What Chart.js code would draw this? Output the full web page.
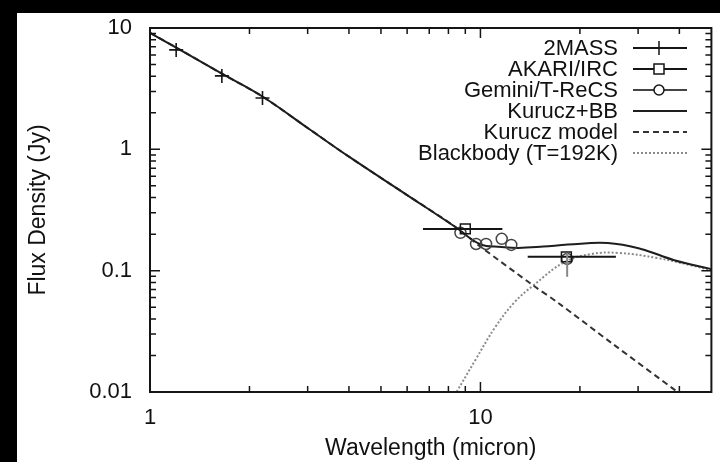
<!DOCTYPE html>
<html>
<head>
<meta charset="utf-8">
<script src="https://cdn.jsdelivr.net/npm/chart.js@4"></script>
<style>
  html, body { margin: 0; padding: 0; background: #000; }
  #wrap { position: absolute; left: 17px; top: 13px; width: 703px; height: 449px; background: #fff; }
</style>
</head>
<body>
<div id="wrap"><canvas id="sed" width="703" height="449"></canvas></div>
<script>
// photometry
var twomassWave = [1.2, 1.65, 2.19];
var twomassFlux = [6.6, 4.03, 2.65];

var akariWave = [9.0, 18.2];
var akariFlux = [0.221, 0.13];
var akariWaveLo = [6.7, 13.9];
var akariWaveHi = [11.65, 25.7];

var geminiWave = [8.7, 9.7, 10.4, 11.6, 12.4, 18.3];
var geminiFlux = [0.205, 0.166, 0.166, 0.183, 0.163, 0.125];
var geminiFluxLo = [0.205, 0.166, 0.166, 0.183, 0.163, 0.089];
var geminiFluxHi = [0.205, 0.166, 0.166, 0.183, 0.163, 0.14];

// models
var totalWave = [1, 1.2, 1.65, 2.2, 3, 4, 6, 8.4, 10, 11.6, 13, 15.5, 18.4, 24.3, 30.6, 38.6, 50];
var totalFlux = [9.1, 6.9, 4.2, 2.7, 1.5, 0.87, 0.42, 0.229, 0.165, 0.157, 0.154, 0.158, 0.164, 0.169, 0.151, 0.122, 0.103];

var kuruczWave = [1, 1.2, 1.65, 2.2, 3, 4, 6, 8.4, 10, 14.45, 17.2, 25, 39.5, 50];
var kuruczFlux = [9.1, 6.9, 4.2, 2.7, 1.5, 0.87, 0.42, 0.229, 0.158, 0.0755, 0.0542, 0.0252, 0.01, 0.0062];

var bbWave = [8.47, 9.66, 11.1, 12.7, 14.45, 18.0, 21.6, 26.1, 34.4, 43.2, 50];
var bbFlux = [0.01, 0.0184, 0.0344, 0.0552, 0.0755, 0.118, 0.137, 0.140, 0.127, 0.111, 0.101];

var seriesNames = ['2MASS', 'AKARI/IRC', 'Gemini/T-ReCS', 'Kurucz+BB', 'Kurucz model', 'Blackbody (T=192K)'];

// axes
var xTicks = [1, 2, 3, 4, 5, 6, 7, 8, 9, 10, 20, 30, 40];
var xLabels = [1, 10];
var yTicks = [0.01, 0.02, 0.03, 0.04, 0.05, 0.06, 0.07, 0.08, 0.09,
              0.1, 0.2, 0.3, 0.4, 0.5, 0.6, 0.7, 0.8, 0.9,
              1, 2, 3, 4, 5, 6, 7, 8, 9, 10];
var yLabels = [0.01, 0.1, 1, 10];

function pts(xs, ys) {
  return xs.map(function (x, i) { return { x: x, y: ys[i] }; });
}

var FONT = '"Liberation Sans", Arial, Helvetica, sans-serif';
var INK = '#151515';

// error bars
var errorBars = {
  id: 'errorBars',
  afterDatasetsDraw: function (chart) {
    var ctx = chart.ctx, xs = chart.scales.x, ys = chart.scales.y;
    ctx.save();
    ctx.lineWidth = 2;
    ctx.strokeStyle = INK;
    ctx.beginPath();
    akariWave.forEach(function (w, i) {
      var py = ys.getPixelForValue(akariFlux[i]);
      ctx.moveTo(xs.getPixelForValue(akariWaveLo[i]), py);
      ctx.lineTo(xs.getPixelForValue(akariWaveHi[i]), py);
    });
    ctx.stroke();
    ctx.strokeStyle = '#888';
    ctx.beginPath();
    geminiWave.forEach(function (w, i) {
      if (geminiFluxLo[i] === geminiFluxHi[i]) return;
      var px = xs.getPixelForValue(w);
      ctx.moveTo(px, ys.getPixelForValue(geminiFluxLo[i]));
      ctx.lineTo(px, ys.getPixelForValue(geminiFluxHi[i]));
    });
    ctx.stroke();
    ctx.restore();
  }
};

// gnuplot style box with inward ticks on all four sides
var frame = {
  id: 'frame',
  afterDatasetsDraw: function (chart) {
    var ctx = chart.ctx, a = chart.chartArea, xs = chart.scales.x, ys = chart.scales.y;
    ctx.save();
    ctx.strokeStyle = INK;
    ctx.lineWidth = 1.5;
    ctx.beginPath();
    xTicks.forEach(function (v) {
      var px = xs.getPixelForValue(v);
      var len = xLabels.indexOf(v) >= 0 ? 10 : 6;
      ctx.moveTo(px, a.bottom); ctx.lineTo(px, a.bottom - len);
      ctx.moveTo(px, a.top); ctx.lineTo(px, a.top + len);
    });
    yTicks.forEach(function (v) {
      var py = ys.getPixelForValue(v);
      var len = yLabels.indexOf(v) >= 0 ? 10 : 6;
      ctx.moveTo(a.left, py); ctx.lineTo(a.left + len, py);
      ctx.moveTo(a.right, py); ctx.lineTo(a.right - len, py);
    });
    ctx.stroke();
    ctx.lineWidth = 2;
    ctx.strokeRect(a.left, a.top, a.right - a.left, a.bottom - a.top);
    ctx.restore();
  }
};

// key in the top right corner, text first then sample
var gnuKey = {
  id: 'gnuKey',
  afterDraw: function (chart) {
    var ctx = chart.ctx;
    var textRight = 601, x0 = 616, x1 = 670, xm = 642, y = 35, step = 21;
    ctx.save();
    ctx.font = '22px ' + FONT;
    ctx.textAlign = 'right';
    ctx.textBaseline = 'middle';
    seriesNames.forEach(function (name, i) {
      var yy = y + i * step;
      var ds = chart.data.datasets[i];
      ctx.fillStyle = '#111';
      ctx.fillText(name, textRight, yy + 1);
      ctx.strokeStyle = ds.borderColor;
      ctx.lineWidth = i < 3 ? 1.8 : ds.borderWidth;
      ctx.setLineDash(ds.borderDash || []);
      ctx.beginPath();
      ctx.moveTo(x0, yy); ctx.lineTo(x1, yy);
      ctx.stroke();
      ctx.setLineDash([]);
      ctx.strokeStyle = INK;
      ctx.lineWidth = 1.5;
      if (i === 0) {
        ctx.beginPath(); ctx.moveTo(xm, yy - 7); ctx.lineTo(xm, yy + 7); ctx.stroke();
      } else if (i === 1) {
        ctx.fillStyle = '#fff';
        ctx.fillRect(xm - 5, yy - 5, 10, 10);
        ctx.strokeRect(xm - 5, yy - 5, 10, 10);
      } else if (i === 2) {
        ctx.fillStyle = '#fff';
        ctx.beginPath(); ctx.arc(xm, yy, 5, 0, Math.PI * 2); ctx.fill(); ctx.stroke();
      }
    });
    ctx.restore();
  }
};

var ctx = document.getElementById('sed').getContext('2d');
var sedChart = new Chart(ctx, {
  type: 'scatter',
  data: {
    datasets: [{
      label: seriesNames[0],
      data: pts(twomassWave, twomassFlux),
      pointStyle: 'cross',
      pointRadius: 7,
      borderColor: INK,
      borderWidth: 1.6,
      showLine: false
    }, {
      label: seriesNames[1],
      data: pts(akariWave, akariFlux),
      pointStyle: 'rect',
      pointRadius: 7,
      borderColor: INK,
      backgroundColor: 'rgba(0,0,0,0)',
      borderWidth: 1.5,
      showLine: false
    }, {
      label: seriesNames[2],
      data: pts(geminiWave, geminiFlux),
      pointStyle: 'circle',
      pointRadius: 5.5,
      borderColor: '#444',
      backgroundColor: 'rgba(0,0,0,0)',
      borderWidth: 1.5,
      showLine: false
    }, {
      label: seriesNames[3],
      data: pts(totalWave, totalFlux),
      showLine: true,
      borderColor: '#1e1e1e',
      borderWidth: 2,
      pointRadius: 0,
      tension: 0.4
    }, {
      label: seriesNames[4],
      data: pts(kuruczWave, kuruczFlux),
      showLine: true,
      borderColor: '#333',
      borderWidth: 2,
      borderDash: [6, 4],
      pointRadius: 0,
      tension: 0.3
    }, {
      label: seriesNames[5],
      data: pts(bbWave, bbFlux),
      showLine: true,
      borderColor: '#8a8a8a',
      borderWidth: 2,
      borderDash: [2, 2],
      pointRadius: 0,
      tension: 0.4
    }]
  },
  options: {
    responsive: false,
    animation: false,
    layout: { padding: { top: 15, right: 6, left: 0, bottom: 0 } },
    plugins: {
      legend: { display: false },
      tooltip: { enabled: false }
    },
    scales: {
      x: {
        type: 'logarithmic',
        min: 1,
        max: 50,
        afterBuildTicks: function (axis) {
          axis.ticks = xTicks.map(function (v) { return { value: v }; });
        },
        afterFit: function (axis) {
          axis.height = 70;
          axis.paddingLeft = 0;
          axis.paddingRight = 0;
        },
        grid: { display: false },
        border: { display: false },
        ticks: {
          autoSkip: false,
          maxRotation: 0,
          padding: 5,
          color: '#111',
          font: { family: FONT, size: 22 },
          callback: function (v) { return xLabels.indexOf(v) >= 0 ? String(v) : ''; }
        },
        title: {
          display: true,
          text: 'Wavelength (micron)',
          color: '#111',
          font: { family: FONT, size: 23 },
          padding: { top: 0, bottom: 0 }
        }
      },
      y: {
        type: 'logarithmic',
        min: 0.01,
        max: 10,
        afterBuildTicks: function (axis) {
          axis.ticks = yTicks.map(function (v) { return { value: v }; });
        },
        afterFit: function (axis) {
          axis.width = 133;
          axis.paddingTop = 0;
          axis.paddingBottom = 0;
        },
        grid: { display: false },
        border: { display: false },
        ticks: {
          autoSkip: false,
          padding: 10,
          color: '#111',
          font: { family: FONT, size: 22 },
          callback: function (v) { return yLabels.indexOf(v) >= 0 ? String(v) : ''; }
        },
        title: {
          display: true,
          text: 'Flux Density (Jy)',
          color: '#111',
          font: { family: FONT, size: 23 },
          padding: { top: 8, bottom: 0 }
        }
      }
    }
  },
  plugins: [errorBars, frame, gnuKey]
});
</script>
</body>
</html>
